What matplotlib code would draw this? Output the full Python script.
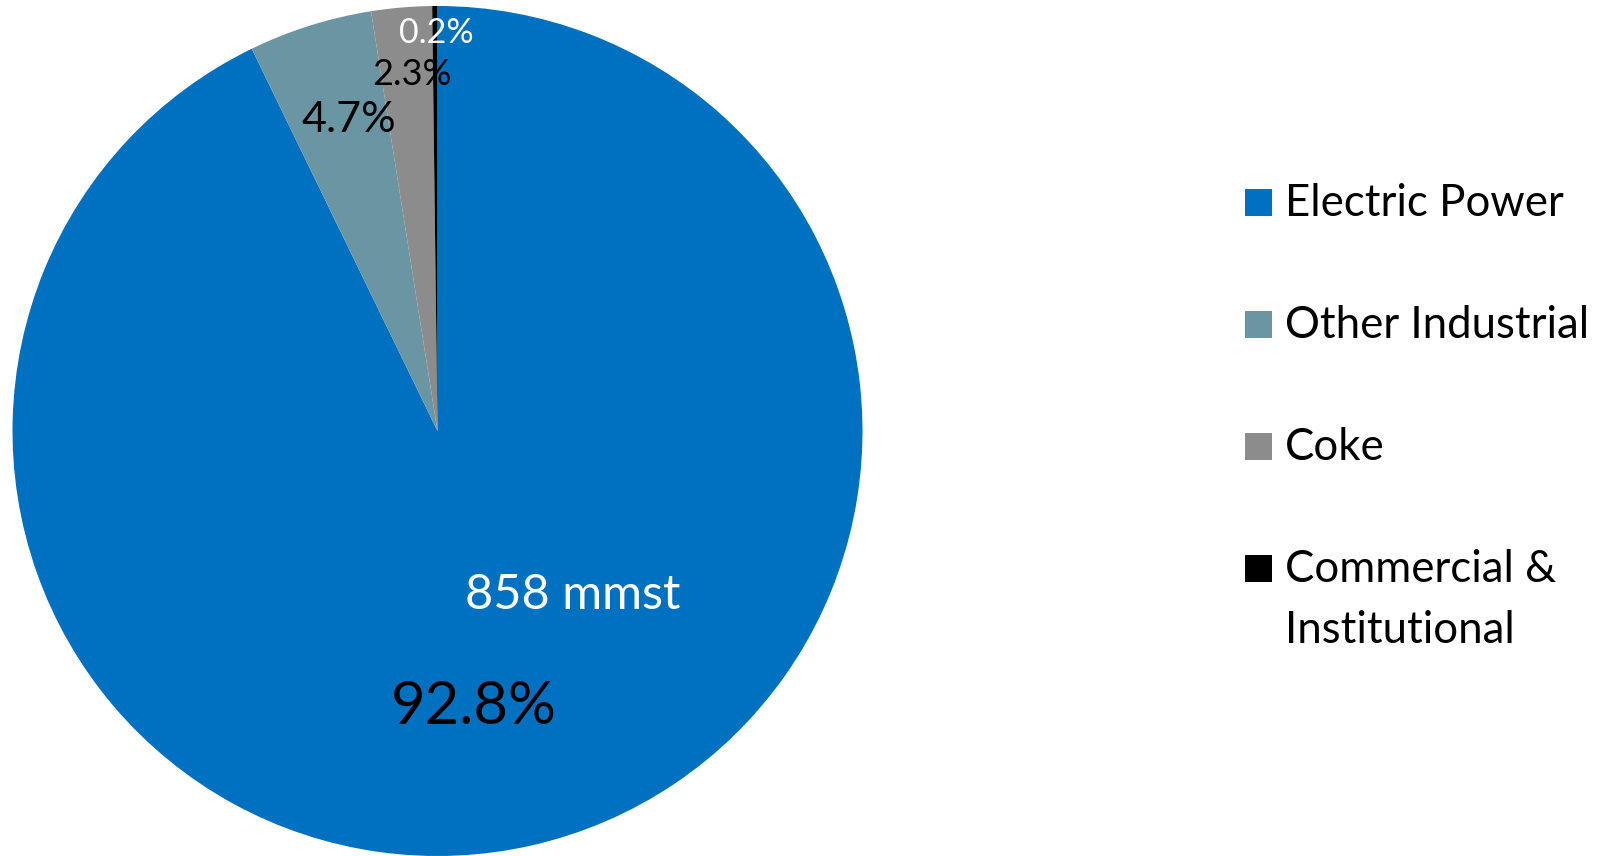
import matplotlib
matplotlib.use("Agg")
import matplotlib.pyplot as plt
import numpy as np
from matplotlib.patches import Rectangle

plt.rcParams['font.family'] = ['Lato', 'DejaVu Sans']

categories = ["Electric Power", "Other Industrial", "Coke", "Commercial &\nInstitutional"]
shares = [92.8, 4.7, 2.3, 0.2]
pct_labels = ["92.8%", "4.7%", "2.3%", "0.2%"]
total_label = "858 mmst"

colors = ["#0070C0", "#6A96A3", "#8C8C8C", "#000000"]
label_colors = ["black", "black", "black", "white"]
label_sizes = [43, 31, 26, 24.5]
# polar positions (radius fraction, angle in degrees) of the percentage labels
label_polar = [(0.655, -82.5), (0.76, 105.9), (0.84, 94.1), (0.937, 90.2)]

W, H = 1608, 856
fig = plt.figure(figsize=(W / 100, H / 100), dpi=100)
R = 425
cx, cy = 437.5, 431
ax = fig.add_axes([(cx - R) / W, (H - cy - R) / H, 2 * R / W, 2 * R / H])
wedges, _ = ax.pie(shares, colors=colors, startangle=90, counterclock=False,
                   radius=1, wedgeprops=dict(linewidth=0))
ax.set_xlim(-1, 1)
ax.set_ylim(-1, 1)
ax.set_aspect('equal')
ax.axis('off')

for lab, col, sz, (r, ang) in zip(pct_labels, label_colors, label_sizes, label_polar):
    a = np.deg2rad(ang)
    ax.text(r * np.cos(a), r * np.sin(a), lab, ha='center', va='center',
            color=col, fontsize=sz)

ax.text(0.319, -0.386, total_label, ha='center', va='center', color='white', fontsize=35)

# legend (drawn in pixel-based figure coordinates)
sq = 27
x0 = 1245
y_first = 202
pitch = 122
for i, (lab, c) in enumerate(zip(categories, colors)):
    yc = y_first + i * pitch
    fig.patches.append(Rectangle((x0 / W, 1 - (yc + sq / 2) / H), sq / W, sq / H,
                                 transform=fig.transFigure, facecolor=c, edgecolor='none'))
    for j, line in enumerate(lab.split("\n")):
        fig.text(1285 / W, 1 - (yc + 14 + j * 61) / H, line, ha='left', va='baseline',
                 fontsize=31.5, color='black')

fig.savefig("out.png", dpi=100)
